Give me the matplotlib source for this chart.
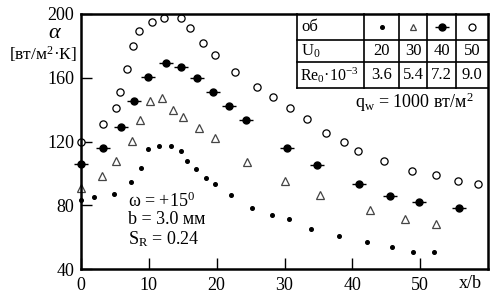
import matplotlib
matplotlib.use('Agg')
import matplotlib.pyplot as plt

plt.rcParams['font.family'] = ['Liberation Serif', 'DejaVu Serif']
plt.rcParams['mathtext.fontset'] = 'custom'
plt.rcParams['mathtext.rm'] = 'Liberation Serif'
plt.rcParams['mathtext.it'] = 'Liberation Serif:italic'

# U0 = 20 (small dots)
x20 = [0, 1.9, 4.9, 7.4, 8.8, 9.9, 11.5, 13.3, 14.8, 15.6, 17.0, 18.5, 19.8,
       22.1, 25.2, 28.1, 30.7, 33.9, 38.0, 42.1, 45.8, 48.9, 52.1]
y20 = [83.1, 85.2, 86.9, 94.6, 103.6, 115.1, 117.2, 117.2, 114.0, 107.9, 102.9, 96.9, 93.5,
       86.2, 78.5, 73.7, 71.4, 65.3, 60.7, 57.1, 53.6, 50.7, 50.7]
# U0 = 30 (open triangles)
x30 = [0, 3.1, 5.2, 7.5, 8.7, 10.1, 11.9, 13.6, 15.1, 17.4, 19.8, 24.5, 30.1, 35.3, 42.6, 47.8, 52.3]
y30 = [90.6, 98.2, 107.6, 120.1, 133.5, 145.4, 147.5, 140.0, 135.5, 128.3, 122.0, 107.3, 95.4,
       86.2, 77.0, 71.6, 68.0]
# U0 = 40 (filled circles with bar)
x40 = [0, 3.3, 5.9, 7.8, 9.9, 12.5, 14.8, 17.1, 19.5, 21.8, 24.3, 30.4, 34.8, 41.0, 45.6, 49.9, 55.7]
y40 = [105.7, 116.1, 128.9, 145.2, 160.3, 169.4, 166.9, 159.8, 151.2, 142.4, 133.3, 116.1, 105.4,
       93.3, 86.0, 82.0, 78.1]
# U0 = 50 (open circles)
x50 = [0, 3.3, 5.1, 5.8, 6.8, 7.7, 8.6, 10.4, 12.2, 14.7, 16.1, 18.0, 19.8, 22.7, 26.0, 28.3,
       30.8, 33.3, 36.1, 38.7, 40.8, 44.6, 48.8, 52.3, 55.6, 58.5]
y50 = [120.0, 130.8, 140.8, 151.0, 165.7, 180.0, 189.5, 194.8, 197.3, 197.3, 191.4, 181.8, 174.3,
       163.8, 154.4, 147.7, 141.2, 133.9, 125.1, 119.9, 113.8, 107.9, 101.3, 99.2, 95.4, 93.3]

U0 = ['20', '30', '40', '50']
Re0 = ['3.6', '5.4', '7.2', '9.0']
xticks = [0, 10, 20, 30, 40, 50]
yticks = [40, 80, 120, 160, 200]

W, H = 496, 298
fig = plt.figure(figsize=(W / 100, H / 100), dpi=100)
ax = fig.add_axes([81 / W, (H - 269) / H, (488 - 81) / W, (269 - 14) / H])


def fx(px):
    return px / W


def fy(py):
    return (H - py) / H


ax.plot(x20, y20, ls='none', marker='o', ms=2.6, color='black', clip_on=False)
ax.plot(x30, y30, ls='none', marker='^', ms=5.5, mfc='white', mec='#444444', mew=0.9, clip_on=False)
ax.plot(x40, y40, ls='none', marker='_', ms=10, mew=1.0, color='black', clip_on=False)
ax.plot(x40, y40, ls='none', marker='o', ms=5, color='black', clip_on=False)
ax.plot(x50, y50, ls='none', marker='o', ms=5.2, mfc='white', mec='black', mew=0.9, clip_on=False)

ax.set_xlim(0, 60)
ax.set_ylim(40, 200)
ax.set_xticks(xticks)
ax.set_yticks(yticks)
ax.tick_params(direction='in', length=8, width=1, labelsize=13, pad=5)
ax.tick_params(axis='x', pad=6)
for s in ax.spines.values():
    s.set_linewidth(1.8)

# axis labels
fig.text(fx(55), fy(33), r'$\alpha$', fontsize=16, ha='center', va='center')
fig.text(fx(43), fy(54), '[вт/м$^2$·К]', fontsize=12.5, ha='center', va='center')
fig.text(fx(470), fy(283), 'x/b', fontsize=13, ha='center', va='center')

# annotations
fig.text(fx(128), fy(201), 'ω = +15$^0$', fontsize=13, ha='left', va='center')
fig.text(fx(128), fy(220), 'b = 3.0 мм', fontsize=13, ha='left', va='center')
fig.text(fx(128), fy(239), 'S$_\\mathrm{R}$ = 0.24', fontsize=13, ha='left', va='center')
fig.text(fx(355), fy(102), 'q$_\\mathrm{w}$ = 1000 вт/м$^2$', fontsize=13, ha='left', va='center')

# table
cols = [297, 364, 399, 427, 456, 488]
rows = [14, 40, 62, 88]
lk = dict(color='black', lw=1.2, transform=fig.transFigure, clip_on=False)
for c in cols[:-1]:
    ax.plot([fx(c), fx(c)], [fy(rows[0]), fy(rows[-1])], **lk)
for r in rows[1:]:
    ax.plot([fx(cols[0]), fx(cols[-1])], [fy(r), fy(r)], **lk)

row_y = [(rows[i] + rows[i + 1]) / 2 for i in range(3)]
fig.text(fx(301), fy(row_y[0]), 'об', fontsize=12, ha='left', va='center')
fig.text(fx(301), fy(row_y[1]), 'U$_0$', fontsize=12, ha='left', va='center')
fig.text(fx(300), fy(row_y[2]), 'Re$_0$·10$^{-3}$', fontsize=11.5, ha='left', va='center')

mk = [dict(marker='o', ms=2.6, color='black'),
      dict(marker='^', ms=5, mfc='white', mec='#444444', mew=0.9),
      dict(marker='o', ms=5, color='black'),
      dict(marker='o', ms=5, mfc='white', mec='black', mew=0.9)]
for i in range(4):
    cx = (cols[i + 1] + cols[i + 2]) / 2
    if i == 2:
        ax.plot([fx(cx)], [fy(row_y[0])], marker='_', ms=10, mew=1.0, color='black',
                transform=fig.transFigure, clip_on=False)
    ax.plot([fx(cx)], [fy(row_y[0])], ls='none', transform=fig.transFigure, clip_on=False, **mk[i])
    fig.text(fx(cx), fy(row_y[1]), U0[i], fontsize=12, ha='center', va='center')
    fig.text(fx(cx), fy(row_y[2]), Re0[i], fontsize=12, ha='center', va='center')

fig.savefig('out.png', dpi=100)
